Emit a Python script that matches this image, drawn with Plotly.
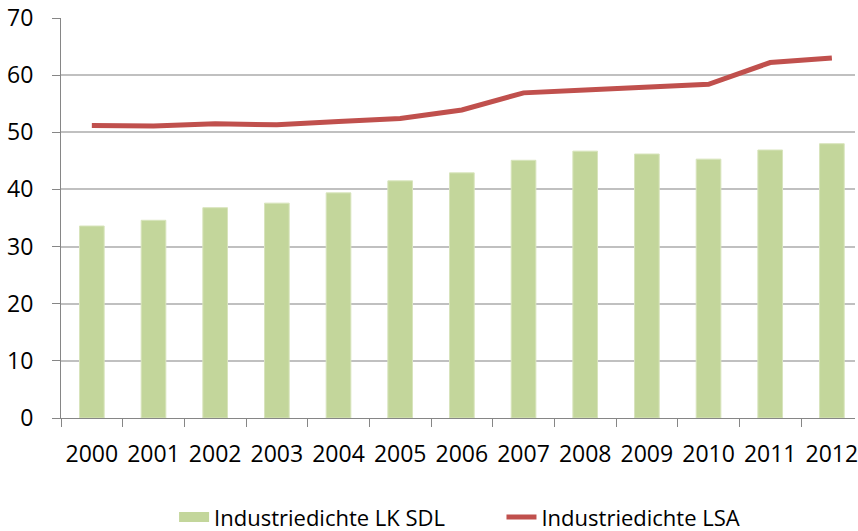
import plotly.graph_objects as go

years = ["2000", "2001", "2002", "2003", "2004", "2005", "2006",
         "2007", "2008", "2009", "2010", "2011", "2012"]
lk_sdl = [33.6, 34.6, 36.8, 37.6, 39.4, 41.5, 42.9, 45.1, 46.7, 46.2, 45.3, 46.9, 48.0]
lsa = [51.2, 51.1, 51.5, 51.3, 51.9, 52.4, 53.9, 56.9, 57.4, 57.9, 58.4, 62.2, 63.0]
y_ticks = [0, 10, 20, 30, 40, 50, 60, 70]

FONT = "Open Sans"
GREEN = "#C3D69B"
RED = "#C0504D"

fig = go.Figure()
fig.add_trace(go.Bar(
    x=years, y=lk_sdl, name="Industriedichte LK SDL",
    marker=dict(color=GREEN, line=dict(color="#D8E4BC", width=1)),
    width=0.4, showlegend=False,
))
# legend entry for the bars, drawn as a wide green block like the reference
fig.add_trace(go.Scatter(
    x=[None], y=[None], name="Industriedichte LK SDL         ", mode="lines",
    line=dict(color=GREEN, width=15),
))
fig.add_trace(go.Scatter(
    x=years, y=lsa, name="Industriedichte LSA", mode="lines",
    line=dict(color=RED, width=5),
))

fig.update_layout(
    width=858, height=531,
    margin=dict(l=61, r=0, t=18, b=113),
    paper_bgcolor="white", plot_bgcolor="white",
    font=dict(family=FONT, size=23, color="#000000"),
    showlegend=True,
    legend=dict(orientation="h", xref="paper", x=0.502, xanchor="center",
                yref="container", y=0.026, yanchor="middle",
                font=dict(family=FONT, size=22, color="#000000"),
                tracegroupgap=0),
)
fig.update_xaxes(
    type="category", range=[-0.5, 12.375],
    showline=True, linecolor="#868686", linewidth=1,
    ticks="outside", ticklen=8, tickcolor="#868686", tickson="boundaries",
    showgrid=False, tickangle=0,
    tickfont=dict(family=FONT, size=23, color="#000000"),
    ticklabelstandoff=15,
)
fig.update_yaxes(
    range=[0, 70], tickmode="array", tickvals=y_ticks,
    ticktext=[str(v) for v in y_ticks],
    showline=True, linecolor="#868686", linewidth=1,
    ticks="outside", ticklen=8, tickcolor="#868686",
    showgrid=True, gridcolor="#C0C0C0", gridwidth=1.5,
    zeroline=False,
    tickfont=dict(family=FONT, size=23, color="#000000"),
    ticklabelstandoff=14,
)

fig.write_html(
    "out.html",
    config={"displayModeBar": False},
    post_script="document.body.style.margin='0';document.body.style.overflow='hidden';",
)
